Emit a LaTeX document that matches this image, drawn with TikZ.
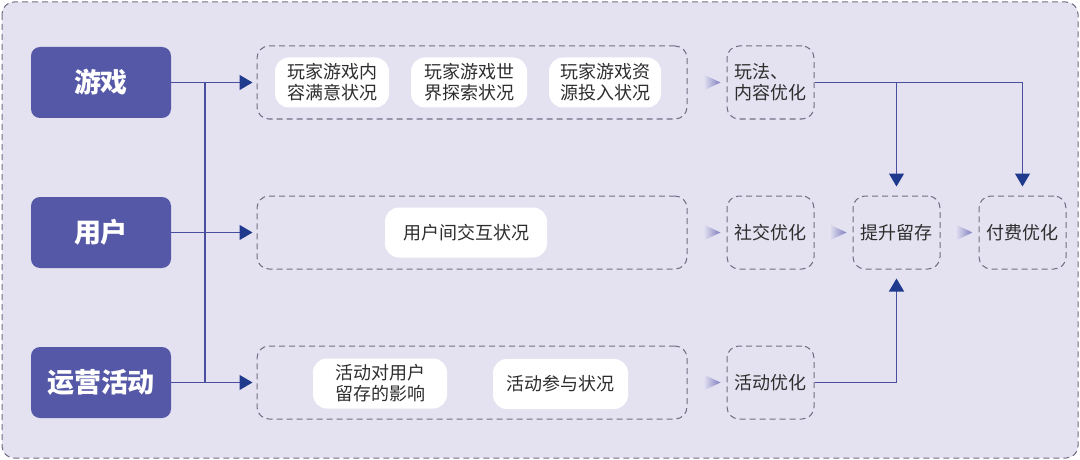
\documentclass[tikz,border=0pt]{standalone}
\usepackage{fontspec}
\setmainfont{Noto Sans CJK SC}
\usetikzlibrary{arrows.meta,positioning}
\definecolor{bgpurple}{HTML}{E4E2F1}
\definecolor{dashgray}{HTML}{6E6E84}
\definecolor{srcblue}{HTML}{5558A6}
\definecolor{linkblue}{HTML}{4A4E9E}
\definecolor{tipblue}{HTML}{1F3A8C}
\definecolor{textgray}{HTML}{2E2E2E}
\definecolor{ptrpurple}{HTML}{7E7EC0}

\begin{document}
\begin{tikzpicture}[x=1pt, y=-1pt,
    src/.style={fill=srcblue, rounded corners=9pt, minimum width=140pt,
      minimum height=71pt, text=white, font=\fontsize{27}{30}\selectfont\bfseries},
    grp/.style={draw=dashgray, line width=1pt, dash pattern=on 6pt off 4pt,
      rounded corners=12pt, minimum width=430pt, minimum height=73pt},
    item/.style={fill=white, rounded corners=14pt, minimum height=50pt,
      text=textgray, align=center, inner sep=2pt, font=\fontsize{18}{21}\selectfont},
    opt/.style={grp, minimum width=87pt, text=textgray, align=left,
      inner sep=2pt, font=\fontsize{18}{21}\selectfont},
    link/.style={draw=linkblue, line width=1.3pt},
    tip/.style={link, -{Triangle[length=13pt, width=15pt, color=tipblue]}}]

    % background
    \fill[white] (0,0) rectangle (1080,460);
    \useasboundingbox (0,0) rectangle (1080,460);
    \draw[fill=bgpurple, draw=dashgray, line width=1pt, dash pattern=on 6pt off 4pt,
      rounded corners=12pt] (2,2) rectangle (1078,458);

    % sources
    \node[src] (game) at (101,82.5) {游戏};
    \node[src] (user) at (101,232.5) {用户};
    \node[src] (event) at (101,382.5) {运营活动};

    % groups
    \node[grp] (ggame) at (472,82.5) {};
    \node[grp] (guser) at (472,232.5) {};
    \node[grp] (gevent) at (472,382.5) {};

    \node[item, minimum width=114pt] (g1) at (332,82.5) {玩家游戏内\\容满意状况};
    \node[item, minimum width=116pt] (g2) at (469,82.5) {玩家游戏世\\界探索状况};
    \node[item, minimum width=112pt] (g3) at (605,82.5) {玩家游戏资\\源投入状况};
    \node[item, minimum width=162pt] (u1) at (466,232.5) {用户间交互状况};
    \node[item, minimum width=134pt] (e1) at (380,383.5) {活动对用户\\留存的影响};
    \node[item, minimum width=135pt] (e2) at (560.5,384) {活动参与状况};

    % results
    \node[opt] (play) at (770.5,82.5) {玩法、\\内容优化};
    \node[opt] (social) at (770.5,232.5) {社交优化};
    \node[opt] (act) at (770.5,382.5) {活动优化};
    \node[opt] (keep) at (896.5,232.5) {提升留存};
    \node[opt] (pay) at (1022.5,232.5) {付费优化};

    % pointers
    \foreach \n in {play,social,act,keep,pay}
      \shade[left color=bgpurple, right color=ptrpurple]
        ([xshift=-23pt, yshift=-8pt]\n.west) -- ([xshift=-6pt]\n.west)
        -- ([xshift=-23pt, yshift=8pt]\n.west) -- cycle;

    % links
    \coordinate (busT) at (205,82.5);
    \coordinate (busB) at (205,382.5);
    \draw[link] (busT) -- (busB);
    \draw[tip, shorten >=4pt] (game) -- (ggame);
    \draw[tip, shorten >=4pt] (user) -- (guser);
    \draw[tip, shorten >=4pt] (event) -- (gevent);

    \draw[tip, shorten >=9pt] (play.east) -| (pay.north);
    \draw[tip, shorten >=9pt] (play.east -| keep.north) -- (keep.north);
    \draw[tip, shorten >=9pt] (act.east) -| (keep.south);
  \end{tikzpicture}
\end{document}
